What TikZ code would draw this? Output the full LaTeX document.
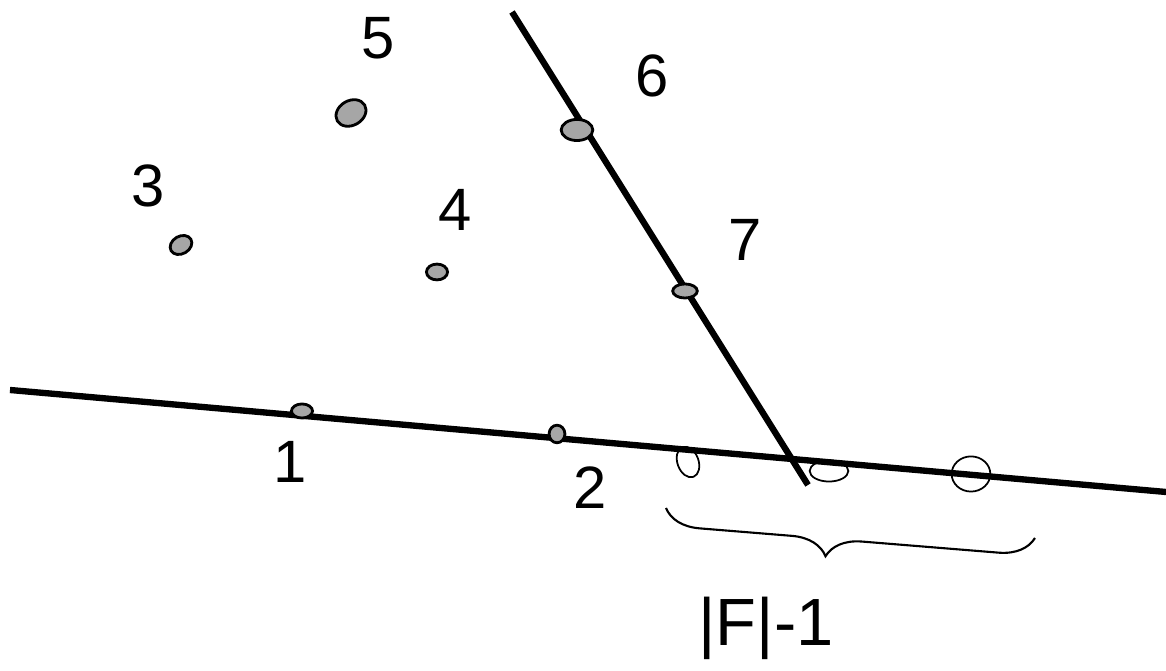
\documentclass[tikz,border=0pt]{standalone}
\usepackage{fontspec}
\setmainfont{Liberation Sans}
\usetikzlibrary{shapes.geometric, decorations.pathreplacing, positioning}
\tikzset{
    dot/.style={draw, ellipse, fill=gray!70, line width=0.8pt, inner sep=0pt, minimum width=6pt, minimum height=5pt},
    hollow/.style={draw, ellipse, line width=0.5pt, inner sep=0pt, minimum width=11pt, minimum height=6pt},
    lbl/.style={font=\fontsize{17}{19}\selectfont, inner sep=0pt},
    heavy/.style={line width=1.8pt}
}

\begin{document}
\begin{tikzpicture}[x=0.01cm, y=-0.01cm]
    \useasboundingbox (0,0) rectangle (1166,671);
    % the two lines
    \coordinate (hl) at (10,390);
    \coordinate (hr) at (1166,492);
    \coordinate (st) at (512,12);
    \coordinate (sb) at (808,485);
    \draw [heavy] (hl) -- (hr);
    \draw [heavy] (st) -- (sb);
    % points
    \node (p1) [dot, minimum width=6pt, minimum height=4pt] at (302,411) {};
    \node (p2) [dot, minimum width=4.5pt, minimum height=5pt] at (557,434) {};
    \node (p3) [dot, minimum width=6.5pt, minimum height=5pt, rotate=30] at (181,245) {};
    \node (p4) [dot, minimum width=6pt, minimum height=4.5pt] at (437,272) {};
    \node (p5) [dot, minimum width=9pt, minimum height=7pt, rotate=30] at (351,113) {};
    \node (p6) [dot, minimum width=9pt, minimum height=6pt] at (577,130) {};
    \node (p7) [dot, minimum width=7pt, minimum height=4pt] at (685,291) {};
    % empty slots
    \node (q1) [hollow, minimum width=6pt, minimum height=9pt, rotate=20] at (688,462) {};
    \node (q2) [hollow, minimum width=11pt, minimum height=6pt] at (829,471) {};
    \node (q3) [hollow, minimum width=11pt, minimum height=10pt] at (971,474) {};
    % labels
    \node (l1) [lbl] at (290,462) {1};
    \node (l2) [lbl] at (590,488) {2};
    \node (l3) [lbl] at (148,186) {3};
    \node (l4) [lbl] at (455,210) {4};
    \node (l5) [lbl] at (378,38) {5};
    \node (l6) [lbl] at (652,76) {6};
    \node (l7) [lbl] at (745,240) {7};
    % brace under the empty slots
    \coordinate (bl) at (666,508);
    \coordinate (br) at (1035,538);
    \draw [line width=0.6pt, decorate, decoration={brace, mirror, amplitude=10pt, aspect=0.44}] (bl) -- (br);
    \node (cnt) [lbl, font=\fontsize{19}{21}\selectfont] at (766,628) {|F|-1};
\end{tikzpicture}
\end{document}
